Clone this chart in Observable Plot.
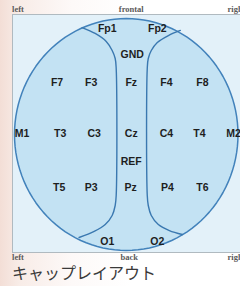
<!DOCTYPE html>
<html><head><meta charset="utf-8">
<script src="https://cdn.jsdelivr.net/npm/d3@7"></script>
<script src="https://cdn.jsdelivr.net/npm/@observablehq/plot@0.6"></script>
<style>
html,body{margin:0;padding:0;}
body{width:240px;height:286px;overflow:hidden;background:linear-gradient(to right,#f3ded6 0%,#f8ece7 8%,#fdf9f8 30%,#ffffff 55%);}
#caption{font-family:"Noto Sans CJK JP",sans-serif;font-size:16px;line-height:19px;padding-top:1px;padding-left:12px;color:#3a3a3a;white-space:nowrap;}
</style></head><body><div id="chart"></div><div id="caption">キャップレイアウト</div>
<script>
// Electrode labels and positions in head coordinates (head radius = 1)
const electrodes = ["Fp1","Fp2","GND","F7","F3","Fz","F4","F8","M1","T3","C3","Cz","C4","T4","M2","REF","T5","P3","Pz","P4","T6","O1","O2"];
const elecX = [-0.170,0.278,0.054,-0.619,-0.314,0.045,0.359,0.682,-0.933,-0.592,-0.287,0.045,0.359,0.655,0.960,0.045,-0.601,-0.314,0.040,0.368,0.682,-0.170,0.278];
const elecY = [0.914,0.914,0.690,0.448,0.448,0.448,0.448,0.448,0.009,0.009,0.009,0.009,0.009,0.009,0.009,-0.233,-0.457,-0.457,-0.457,-0.457,-0.457,-0.922,-0.922];

// Divider curves between hemispheres and the midline strip
const leftDivX = [-0.395,-0.278,-0.179,-0.126,-0.099,-0.090,-0.090,-0.099,-0.126,-0.188,-0.287,-0.422];
const leftDivY = [0.922,0.871,0.802,0.724,0.655,0.569,-0.526,-0.612,-0.698,-0.776,-0.836,-0.888];
const rightDivX = [0.484,0.377,0.278,0.224,0.197,0.188,0.188,0.197,0.224,0.287,0.386,0.502];
const rightDivY = [0.897,0.853,0.793,0.724,0.655,0.569,-0.526,-0.612,-0.698,-0.776,-0.828,-0.862];

// Orientation labels
const sideLabels = ["left","frontal","right","left","back","right"];
const sideX = [-1.022,0.045,0.906,-1.022,0.027,0.906];
const sideY = [1.078,1.078,1.078,-1.055,-1.055,-1.055];
const sideAnchor = ["start","middle","start","start","middle","start"];

const elecData = electrodes.map((name,i)=>({name,x:elecX[i],y:elecY[i]}));
const leftDiv = leftDivX.map((x,i)=>({x,y:leftDivY[i]}));
const rightDiv = rightDivX.map((x,i)=>({x,y:rightDivY[i]}));
const sideData = sideLabels.map((t,i)=>({t,x:sideX[i],y:sideY[i],a:sideAnchor[i]}));
// head outline (unit circle shape)
const head = d3.range(0,361,3).map(a=>({x:Math.cos(a*Math.PI/180),y:Math.sin(a*Math.PI/180)}));

const chart = Plot.plot({
  width:240, height:262,
  marginLeft:12, marginTop:14, marginRight:-12, marginBottom:10,
  x:{domain:[-1,1], range:[14,237.5], axis:null},
  y:{domain:[-1,1], range:[250,18], axis:null},
  style:{background:"transparent", overflow:"visible"},
  marks:[
    Plot.frame({fill:"#e3f1f9", stroke:"#b0bac0", strokeWidth:1}),
    Plot.line(head,{x:"x",y:"y",fill:"#c3e2f3",stroke:"#4282bb",strokeWidth:1.5}),
    Plot.line(leftDiv,{x:"x",y:"y",curve:"catmull-rom",stroke:"#3a78b0",strokeWidth:1.4}),
    Plot.line(rightDiv,{x:"x",y:"y",curve:"catmull-rom",stroke:"#3a78b0",strokeWidth:1.4}),
    Plot.text(elecData,{x:"x",y:"y",text:"name",fontFamily:"Liberation Sans, Arial, sans-serif",fontWeight:"bold",fontSize:10.5,fill:"#1e1e1e"}),
    Plot.text(sideData.filter(d=>d.a==="start"),{x:"x",y:"y",text:"t",textAnchor:"start",fontFamily:"Liberation Serif, serif",fontWeight:"bold",fontSize:8.5,fill:"#5a5a5a"}),
    Plot.text(sideData.filter(d=>d.a==="middle"),{x:"x",y:"y",text:"t",textAnchor:"middle",fontFamily:"Liberation Serif, serif",fontWeight:"bold",fontSize:8.5,fill:"#5a5a5a"})
  ]
});
document.getElementById("chart").appendChild(chart);
</script></body></html>
